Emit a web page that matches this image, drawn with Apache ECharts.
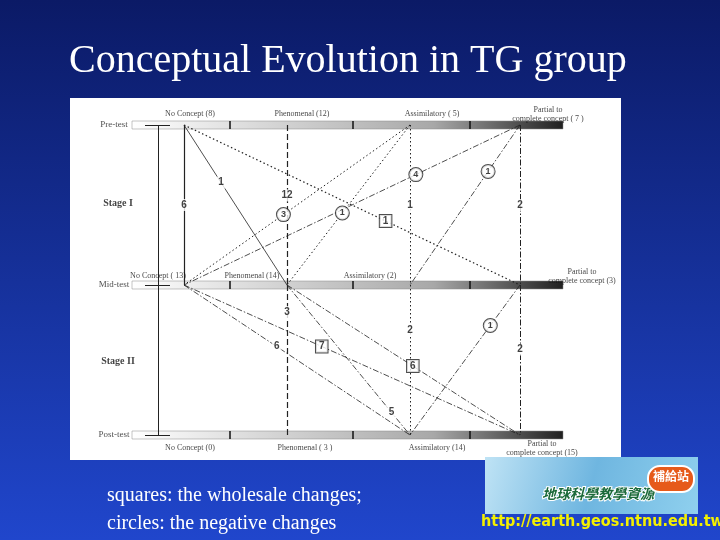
<!DOCTYPE html>
<html>
<head>
<meta charset="utf-8">
<script src="https://cdn.jsdelivr.net/npm/echarts@6/dist/echarts.min.js"></script>
<style>
html, body { margin: 0; padding: 0; }
#chart { width: 720px; height: 540px; }
</style>
</head>
<body>
<div id="chart"></div>
<script>
// diagram data (panel coordinates: x 0..551, y 0..362 downward)
const levelNames = ['Pre-test', 'Mid-test', 'Post-test'];
const levelY = [27, 187, 337];
const nodeX = [114, 217, 340, 450];          // No Concept, Phenomenal, Assimilatory, Partial
const barEdges = [62, 160, 283, 400, 493];
const preLabels = ['No Concept (8)', 'Phenomenal (12)', 'Assimilatory ( 5)', 'Partial to\ncomplete concept ( 7 )'];
const midLabels = ['No Concept ( 13)', 'Phenomenal (14)', 'Assimilatory (2)', 'Partial to\ncomplete concept (3)'];
const postLabels = ['No Concept (0)', 'Phenomenal ( 3 )', 'Assimilatory (14)', 'Partial to\ncomplete concept (15)'];
const preLabelX = [120, 232, 362, 478];
const midLabelX = [88, 182, 300, 512];
const postLabelX = [120, 235, 367, 472];

// [from level, from cat, to level, to cat, label, label kind, label position t, line type, width]
const links = [
    [0, 0, 1, 0, '6', 'n', 0.5, 'solid', 1.2],
    [0, 0, 1, 1, '1', 'n', 0.36, 'solid', 0.8],
    [0, 0, 1, 3, '1', 's', 0.6, 'dotted', 1.2],
    [0, 1, 1, 1, '12', 'n', 0.44, 'dashed', 1.2],
    [0, 2, 1, 0, '3', 'c', 0.56, 'dotted', 1],
    [0, 2, 1, 1, '1', 'c', 0.55, 'dotted', 1],
    [0, 2, 1, 2, '1', 'n', 0.5, 'dotted', 1],
    [0, 3, 1, 0, '4', 'c', 0.31, 'dashdot', 0.8],
    [0, 3, 1, 2, '1', 'c', 0.29, 'dashdot', 0.8],
    [0, 3, 1, 3, '2', 'n', 0.5, 'dashdot', 1],
    [1, 0, 2, 2, '6', 'n', 0.41, 'dashdot', 0.8],
    [1, 0, 2, 3, '7', 's', 0.41, 'dashdot', 0.8],
    [1, 1, 2, 1, '3', 'n', 0.18, 'dashed', 1.2],
    [1, 1, 2, 2, '5', 'n', 0.85, 'dashdot', 0.8],
    [1, 1, 2, 3, '6', 's', 0.54, 'dashdot', 0.8],
    [1, 2, 2, 2, '2', 'n', 0.3, 'dotted', 1],
    [1, 3, 2, 2, '1', 'c', 0.27, 'dashdot', 0.8],
    [1, 3, 2, 3, '2', 'n', 0.43, 'dashdot', 1]
];

const dashMap = { solid: 'solid', dashed: [6, 3], dotted: [1.5, 2.5], dashdot: [6, 2, 1.5, 2] };

const chart = echarts.init(document.getElementById('chart'));

const linkData = links.map(l => ({
    coords: [[nodeX[l[1]], levelY[l[0]]], [nodeX[l[3]], levelY[l[2]]]],
    lineStyle: { type: dashMap[l[7]], width: l[8] }
}));

const labelData = links.map(l => {
    const x0 = nodeX[l[1]], y0 = levelY[l[0]], x1 = nodeX[l[3]], y1 = levelY[l[2]];
    const t = l[6];
    return { value: [x0 + (x1 - x0) * t, y0 + (y1 - y0) * t], text: l[4], kind: l[5] };
});

const catLabels = [];
preLabels.forEach((s, i) => catLabels.push({ value: [preLabelX[i], levelY[0] - 11], text: s }));
midLabels.forEach((s, i) => catLabels.push({ value: [midLabelX[i], levelY[1] - 9], text: s }));
postLabels.forEach((s, i) => catLabels.push({ value: [postLabelX[i], levelY[2] + 13], text: s }));

// left time axis
const axisLines = [
    { coords: [[88, levelY[0]], [88, levelY[2]]] },
    { coords: [[75, levelY[0]], [100, levelY[0]]] },
    { coords: [[75, levelY[1]], [100, levelY[1]]] },
    { coords: [[75, levelY[2]], [100, levelY[2]]] }
];
const sideLabels = [
    { value: [44, levelY[0]], text: 'Pre-test' },
    { value: [44, levelY[1]], text: 'Mid-test' },
    { value: [44, levelY[2]], text: 'Post-test' },
    { value: [48, 105], text: '{b|Stage I}' },
    { value: [48, 263], text: '{b|Stage II}' }
];

const option = {
    backgroundColor: new echarts.graphic.LinearGradient(0, 0, 0, 1, [
        { offset: 0, color: '#0b1a66' },
        { offset: 1, color: '#2046cc' }
    ]),
    animation: false,
    grid: { left: 70, top: 98, width: 551, height: 362, show: true, backgroundColor: '#fff', borderWidth: 0 },
    xAxis: { type: 'value', min: 0, max: 551, show: false },
    yAxis: { type: 'value', min: 0, max: 362, inverse: true, show: false },
    graphic: [
        { type: 'text', left: 69, top: 41, style: { text: 'Conceptual Evolution in TG group', font: '40px "Liberation Serif", serif', fill: '#fff' } },
        { type: 'text', left: 107, top: 482, style: { text: 'squares: the wholesale changes;\ncircles: the negative changes', font: '20px "Liberation Serif", serif', fill: '#fff', lineHeight: 28 } },
        { type: 'rect', shape: { x: 485, y: 457, width: 213, height: 57 }, style: { fill: new echarts.graphic.LinearGradient(0, 0, 1, 1, [{ offset: 0, color: '#bfe3f5' }, { offset: 0.5, color: '#6fb6e0' }, { offset: 1, color: '#8fd0ee' }]) } },
        { type: 'text', left: 541, top: 486, style: { text: '\u5730\u7403\u79d1\u5b78\u6559\u5b78\u8cc7\u6e90', font: 'italic bold 14px "Noto Sans CJK TC"', fill: '#1b6a3a', stroke: '#fff', lineWidth: 2 } },
        { type: 'rect', shape: { x: 648, y: 466, width: 46, height: 26, r: 12 }, style: { fill: '#e65a1a', stroke: '#fff', lineWidth: 2 } },
        { type: 'text', left: 653, top: 470, style: { text: '\u88dc\u7d66\u7ad9', font: 'bold 12px "Noto Sans CJK TC"', fill: '#fff' } },
        { type: 'text', left: 481, top: 514, style: { text: 'http://earth.geos.ntnu.edu.tw.', font: 'bold 16px "DejaVu Sans Condensed", "DejaVu Sans", sans-serif', fill: '#f4f000' } }
    ],
    series: [
        {
            type: 'custom',
            renderItem: function(params, api) {
                const y = api.value(0);
                const p0 = api.coord([barEdges[0], y]);
                const p1 = api.coord([barEdges[barEdges.length - 1], y]);
                const children = [{
                    type: 'rect',
                    shape: { x: p0[0], y: p0[1] - 4, width: p1[0] - p0[0], height: 8 },
                    style: {
                        fill: new echarts.graphic.LinearGradient(0, 0, 1, 0, [
                            { offset: 0, color: '#ffffff' }, { offset: 0.3, color: '#d8d8d8' },
                            { offset: 0.7, color: '#a8a8a8' }, { offset: 1, color: '#202020' }
                        ]),
                        stroke: '#888', lineWidth: 0.5
                    }
                }];
                barEdges.slice(1, -1).forEach(e => {
                    const p = api.coord([e, y]);
                    children.push({ type: 'line', shape: { x1: p[0], y1: p[1] - 4, x2: p[0], y2: p[1] + 4 }, style: { stroke: '#111', lineWidth: 1.5 } });
                });
                return { type: 'group', children: children };
            },
            data: levelY.map(v => [v]),
            z: 1
        },
        {
            type: 'lines',
            coordinateSystem: 'cartesian2d',
            lineStyle: { color: '#222', opacity: 1 },
            data: linkData,
            z: 2
        },
        {
            type: 'lines',
            coordinateSystem: 'cartesian2d',
            lineStyle: { color: '#222', width: 1, opacity: 1 },
            data: axisLines,
            z: 2
        },
        {
            type: 'scatter',
            symbolSize: 0,
            data: labelData,
            z: 5,
            label: {
                show: true,
                position: 'inside',
                formatter: p => '{' + p.data.kind + '|' + p.data.text + '}',
                rich: {
                    n: { fontSize: 10, fontWeight: 'bold', color: '#111', backgroundColor: '#fff', padding: [1, 2] },
                    c: { fontSize: 9, fontWeight: 'bold', color: '#111', backgroundColor: '#fff', borderColor: '#222', borderWidth: 1, borderRadius: 8, width: 13, height: 13, align: 'center' },
                    s: { fontSize: 10, fontWeight: 'bold', color: '#111', backgroundColor: '#fff', borderColor: '#222', borderWidth: 1, padding: [1, 3] }
                }
            }
        },
        {
            type: 'scatter',
            symbolSize: 0,
            data: catLabels,
            z: 5,
            label: {
                show: true,
                position: 'inside',
                formatter: p => p.data.text,
                fontFamily: '"Liberation Serif", serif',
                fontSize: 8,
                lineHeight: 9,
                color: '#111'
            }
        },
        {
            type: 'scatter',
            symbolSize: 0,
            data: sideLabels,
            z: 5,
            label: {
                show: true,
                position: 'inside',
                formatter: p => p.data.text,
                fontFamily: '"Liberation Serif", serif',
                fontSize: 9,
                color: '#222',
                backgroundColor: '#fff',
                rich: { b: { fontFamily: '"Liberation Serif", serif', fontSize: 10, fontWeight: 'bold', color: '#111' } }
            }
        }
    ]
};

chart.setOption(option);
</script>
</body>
</html>
